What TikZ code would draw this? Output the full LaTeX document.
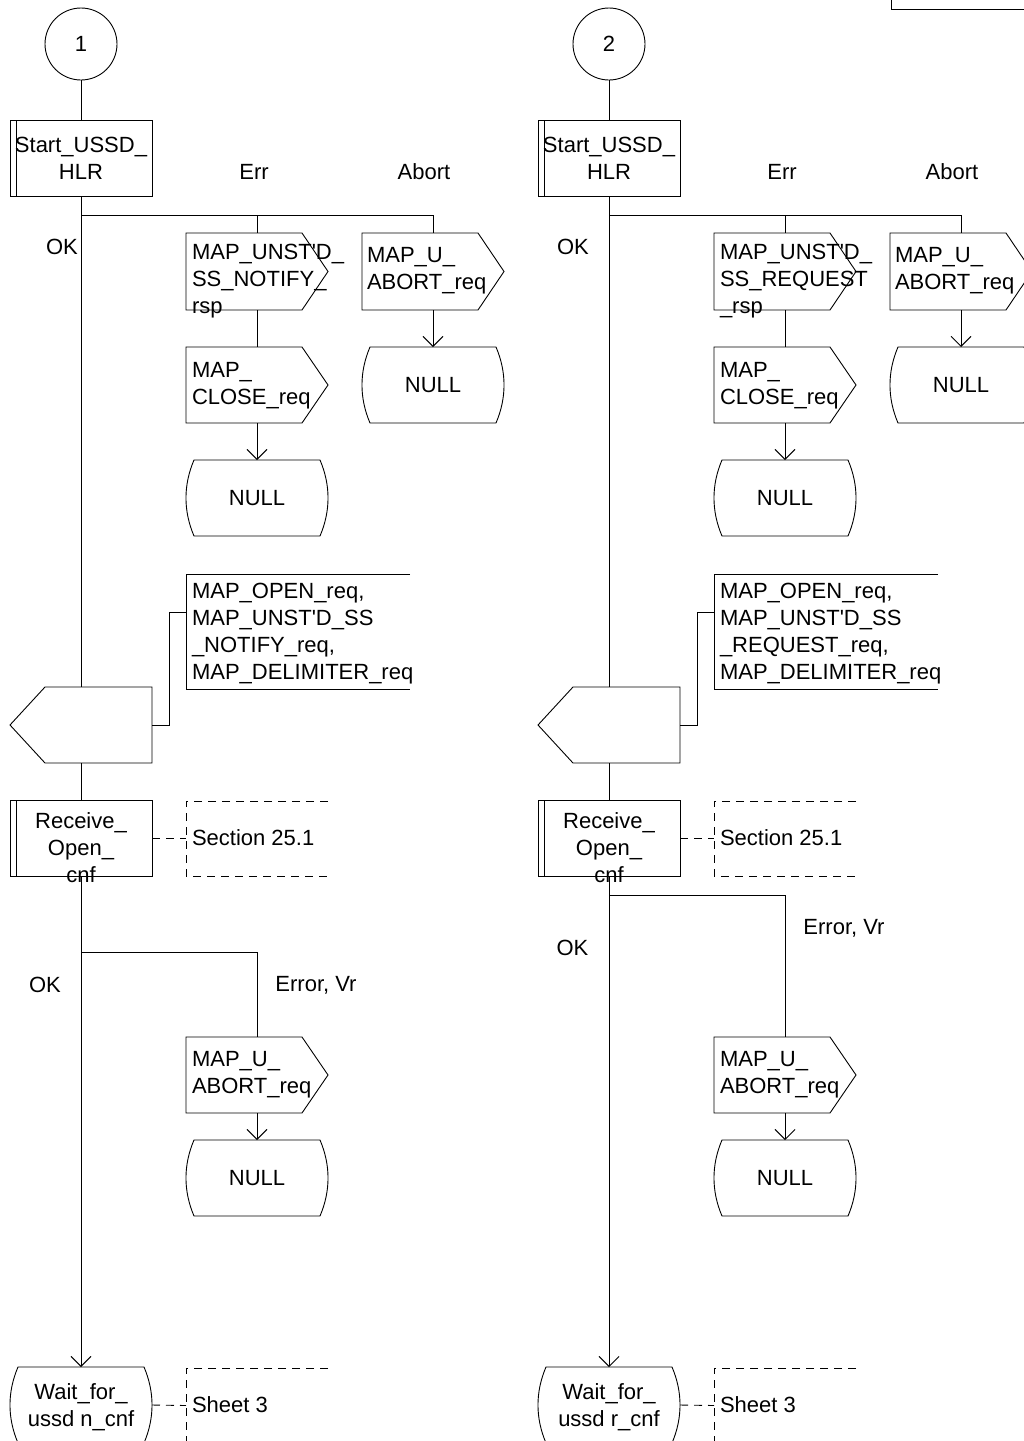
\documentclass[tikz,border=0pt]{standalone}
\usepackage{fontspec}
\setmainfont{Liberation Sans}
\usetikzlibrary{arrows.meta}
\newcommand\ap{\textquotesingle}
\newcommand\sigout[1]{\draw (#1.north west) -- ([xshift=-26pt]#1.north east) -- (#1.east) -- ([xshift=-26pt]#1.south east) -- (#1.south west) -- cycle;}
\newcommand\stateout[1]{\draw ([xshift=8pt]#1.north west) -- ([xshift=-8pt]#1.north east) .. controls ([xshift=2.7pt,yshift=-25pt]#1.north east) and ([xshift=2.7pt,yshift=25pt]#1.south east) .. ([xshift=-8pt]#1.south east) -- ([xshift=8pt]#1.south west) .. controls ([xshift=-2.7pt,yshift=25pt]#1.south west) and ([xshift=-2.7pt,yshift=-25pt]#1.north west) .. ([xshift=8pt]#1.north west) -- cycle;}
\newcommand\opencomment[2]{\draw[#2] (#1.north east) -- (#1.north west) -- (#1.south west) -- (#1.south east);}
\newcommand\drawcol[9]{%
  \node[draw,circle,minimum size=72pt,inner sep=0pt] (c#1) at (81,44) {#2};
  \node[proc] (s#1) at (81,158) {Start\_USSD\_\\HLR};
  \draw ([xshift=6pt]s#1.north west) -- ([xshift=6pt]s#1.south west);
  \draw (c#1.south) -- (s#1.north);
  \coordinate (j#1) at (81,215);
  \node[lbl] (le#1) at (254,172) {Err};
  \node[lbl] (la#1) at (424,172) {Abort};
  \node[lbl] (lo#1) at (#6,247) {OK};
  % Err branch
  \node[box,minimum height=77pt] (oe#1) at (257,271.5) {};
  \sigout{oe#1}
  \node[txt] (toe#1) at (192,281) {#3};
  \node[box] (oc#1) at (257,385) {};
  \sigout{oc#1}
  \node[txt] (toc#1) at (192,386) {MAP\_\\CLOSE\_req};
  \node[box] (na#1) at (257,498) {NULL};
  \stateout{na#1}
  % Abort branch
  \node[box,minimum height=77pt] (oa#1) at (433,271.5) {};
  \sigout{oa#1}
  \node[txt] (toa#1) at (367,271) {MAP\_U\_\\ABORT\_req};
  \node[box] (nb#1) at (433,385) {NULL};
  \stateout{nb#1}
  \draw (s#1.south) -- (j#1) -| (oe#1.north);
  \draw (j#1) -| (oa#1.north);
  \draw (oe#1.south) -- (oc#1.north);
  \draw[arr] (oc#1.south) -- (na#1.north);
  \draw[arr] (oa#1.south) -- (nb#1.north);
  % OK path
  \node[box] (snd#1) at (81,725) {};
  \draw (snd#1.north east) -- ([xshift=35pt]snd#1.north west) -- (snd#1.west) -- ([xshift=35pt]snd#1.south west) -- (snd#1.south east) -- cycle;
  \draw (j#1) -- (snd#1.north);
  \node[box,minimum width=224pt,minimum height=115pt] (cm#1) at (298,631.5) {};
  \opencomment{cm#1}{solid}
  \node[txt] (tcm#1) at (192,634) {#4};
  \draw (snd#1.east) -- ++(17,0) |- ([yshift=19.5pt]cm#1.west);
  \node[proc] (rc#1) at (81,838) {};
  \draw ([xshift=6pt]rc#1.north west) -- ([xshift=6pt]rc#1.south west);
  \node[lbl] (trc#1) at (81,848) {Receive\_\\Open\_\\cnf};
  \draw (snd#1.south) -- (rc#1.north);
  \node[box,minimum height=75pt] (sec#1) at (257,838.5) {};
  \opencomment{sec#1}{dsh}
  \node[txt] (tsec#1) at (192,838) {Section 25.1};
  \draw[dsh] (rc#1.east) -- (sec#1.west |- rc#1.east);
  % lower branch
  \coordinate (k#1) at (81,#5);
  \node[lbl] (lok#1) at #7 {OK};
  \node[lbl] (ler#1) at #8 {Error, Vr};
  \node[box] (ou#1) at (257,1075) {};
  \sigout{ou#1}
  \node[txt] (tou#1) at (192,1075) {MAP\_U\_\\ABORT\_req};
  \node[box] (nc#1) at (257,1178) {NULL};
  \stateout{nc#1}
  \draw (rc#1.south) -- (k#1) -| (ou#1.north);
  \draw[arr] (ou#1.south) -- (nc#1.north);
  \node[box] (w#1) at (81,1405) {};
  \stateout{w#1}
  \node[lbl] (tw#1) at (81,1407) {#9};
  \draw[arr] (k#1) -- (w#1.north);
  \node[box,minimum height=75pt] (sh#1) at (257,1405.5) {};
  \opencomment{sh#1}{dsh}
  \node[txt] (tsh#1) at (192,1405) {Sheet 3};
  \draw[dsh] (w#1.east) -- (sh#1.west);
}
\begin{document}
\begin{tikzpicture}[x=1pt,y=-1pt,line width=0.9pt,
  font=\fontsize{22}{27}\selectfont,
  box/.style={minimum width=142pt,minimum height=76pt,inner sep=0pt,outer sep=0pt,align=center},
  proc/.style={box,draw},
  txt/.style={inner sep=0pt,outer sep=0pt,align=left,anchor=west},
  lbl/.style={inner sep=0pt,outer sep=0pt,align=center,anchor=center},
  arr/.style={-{Straight Barb[length=10pt,width=20pt]}},
  dsh/.style={dash pattern=on 8pt off 6pt}]
\useasboundingbox (0,0) rectangle (1024,1441);
\clip (0,0) rectangle (1024,1441);
\fill[white] (0,0) rectangle (1024,1441);
\drawcol{L}{1}{MAP\_UNST\ap D\_\\SS\_NOTIFY\_\\rsp}{MAP\_OPEN\_req,\\MAP\_UNST\ap D\_SS\\\_NOTIFY\_req,\\MAP\_DELIMITER\_req}{952}{62}{(45,985)}{(316,985)}{Wait\_for\_\\ussd n\_cnf}
\begin{scope}[xshift=528pt]
\drawcol{R}{2}{MAP\_UNST\ap D\_\\SS\_REQUEST\\\_rsp}{MAP\_OPEN\_req,\\MAP\_UNST\ap D\_SS\\\_REQUEST\_req,\\MAP\_DELIMITER\_req}{895}{45}{(44.5,948)}{(316,928)}{Wait\_for\_\\ussd r\_cnf}
\end{scope}
\draw (891,-2) -- (891,9) -- (1030,9);
\end{tikzpicture}
\end{document}
